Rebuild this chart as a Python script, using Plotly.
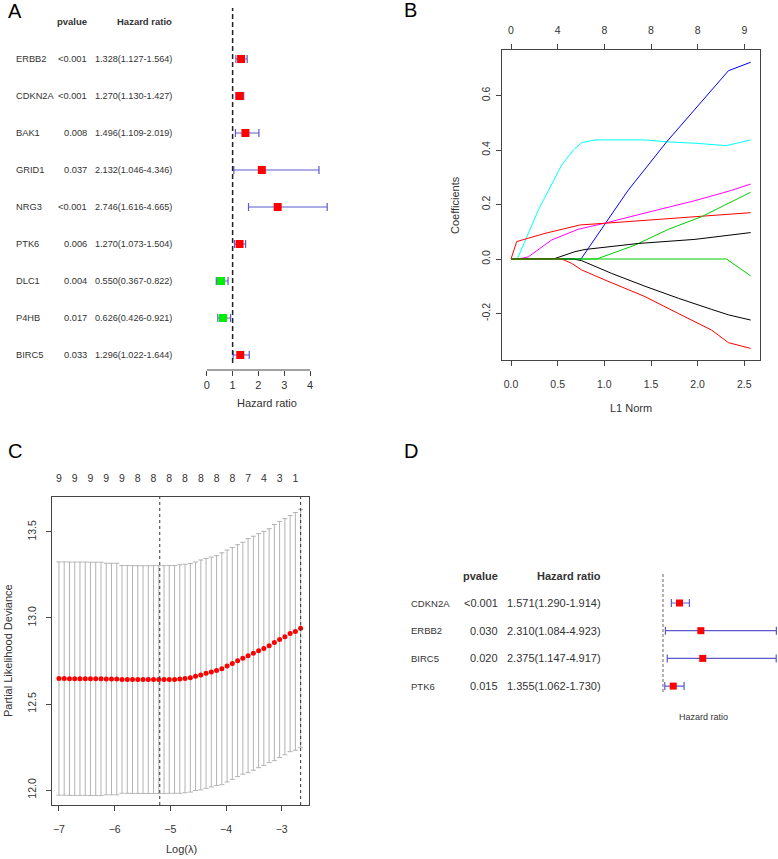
import plotly.graph_objects as go

W, H = 778, 859
FONT = 'Liberation Sans, Arial, sans-serif'
TXT = '#333333'
AX = '#444444'
ERR = '#5a5acd'

# ---- panel A: univariate cox
a_genes = ['ERBB2', 'CDKN2A', 'BAK1', 'GRID1', 'NRG3', 'PTK6', 'DLC1', 'P4HB', 'BIRC5']
a_pvalue = ['<0.001', '<0.001', '0.008', '0.037', '<0.001', '0.006', '0.004', '0.017', '0.033']
a_hr = [1.328, 1.270, 1.496, 2.132, 2.746, 1.270, 0.550, 0.626, 1.296]
a_low = [1.127, 1.130, 1.109, 1.046, 1.616, 1.073, 0.367, 0.426, 1.022]
a_high = [1.564, 1.427, 2.019, 4.346, 4.665, 1.504, 0.822, 0.921, 1.644]
a_ticks = [0, 1, 2, 3, 4]

# ---- panel B: lasso coefficient paths (L1 norm vs coefficient)
b_ticks = [0.0, 0.5, 1.0, 1.5, 2.0, 2.5]
b_top_nz = ['0', '4', '8', '8', '8', '9']
b_yticks = [-0.2, 0.0, 0.2, 0.4, 0.6]

cyan_x = [0, 0.068, 0.293, 0.40, 0.543, 0.668, 0.757, 0.90, 1.436, 1.668, 1.97, 2.31, 2.568]
cyan_y = [0, 0, 0.18, 0.253, 0.345, 0.40, 0.427, 0.437, 0.437, 0.43, 0.425, 0.416, 0.437]
blue_x = [0, 0.75, 1.0, 1.257, 1.668, 2.33, 2.568]
blue_y = [0, 0, 0.125, 0.253, 0.43, 0.691, 0.722]
magenta_x = [0, 0.08, 0.186, 0.436, 0.72, 1.0, 1.52, 1.97, 2.364, 2.568]
magenta_y = [0, 0, 0.008, 0.07, 0.109, 0.131, 0.176, 0.214, 0.252, 0.275]
redpos_x = [0, 0.061, 0.364, 0.74, 1.0, 1.614, 2.568]
redpos_y = [0, 0.064, 0.094, 0.125, 0.131, 0.146, 0.17]
greenpos_x = [0, 0.918, 1.329, 1.686, 2.04, 2.568]
greenpos_y = [0, 0, 0.051, 0.109, 0.155, 0.245]
blackpos_x = [0, 0.382, 0.471, 0.686, 0.793, 1.364, 1.97, 2.568]
blackpos_y = [0, 0, 0.002, 0.027, 0.035, 0.057, 0.072, 0.097]
blackneg_x = [0, 0.668, 0.757, 1.079, 1.436, 1.793, 2.15, 2.33, 2.568]
blackneg_y = [0, 0, -0.006, -0.053, -0.10, -0.144, -0.185, -0.205, -0.224]
redneg_x = [0, 0.543, 0.65, 0.757, 1.007, 1.436, 1.793, 2.15, 2.33, 2.568]
redneg_y = [0, 0, -0.016, -0.04, -0.077, -0.138, -0.20, -0.261, -0.307, -0.328]
greenneg_x = [0, 2.31, 2.568]
greenneg_y = [0, 0, -0.062]

# ---- panel C: cross-validation curve
c_loglam = [-7.000, -6.906, -6.811, -6.717, -6.623, -6.528, -6.434, -6.340, -6.245, -6.151,
            -6.057, -5.962, -5.868, -5.773, -5.679, -5.585, -5.490, -5.396, -5.302, -5.207,
            -5.113, -5.019, -4.924, -4.830, -4.736, -4.641, -4.547, -4.453, -4.358, -4.264,
            -4.170, -4.075, -3.981, -3.887, -3.792, -3.698, -3.604, -3.509, -3.415, -3.321,
            -3.226, -3.132, -3.038, -2.943, -2.849, -2.755, -2.660]
c_mean = [12.648, 12.648, 12.647, 12.647, 12.647, 12.647, 12.646, 12.646, 12.646, 12.645,
          12.645, 12.645, 12.643, 12.643, 12.642, 12.642, 12.642, 12.642, 12.642, 12.642,
          12.642, 12.643, 12.643, 12.645, 12.648, 12.652, 12.661, 12.669, 12.678, 12.686,
          12.694, 12.705, 12.721, 12.736, 12.752, 12.766, 12.781, 12.795, 12.810, 12.823,
          12.839, 12.857, 12.875, 12.891, 12.909, 12.922, 12.940]
c_sd = [0.678, 0.678, 0.678, 0.678, 0.678, 0.678, 0.678, 0.678, 0.678, 0.673,
        0.673, 0.673, 0.662, 0.662, 0.662, 0.662, 0.662, 0.662, 0.662, 0.662,
        0.662, 0.662, 0.662, 0.664, 0.664, 0.664, 0.664, 0.668, 0.668, 0.668,
        0.668, 0.674, 0.674, 0.674, 0.674, 0.674, 0.680, 0.680, 0.680, 0.680,
        0.680, 0.686, 0.686, 0.686, 0.686, 0.691, 0.691]
c_top_pos = [-7.000, -6.717, -6.434, -6.151, -5.868, -5.585, -5.302, -5.019,
             -4.736, -4.453, -4.170, -3.887, -3.604, -3.321, -3.038, -2.755]
c_top_nz = ['9', '9', '9', '9', '9', '8', '8', '8', '8', '8', '8', '8', '7', '4', '3', '1']
c_xticks = [-7, -6, -5, -4, -3]
c_yticks = [12.0, 12.5, 13.0, 13.5]
c_lambda_min = -5.19
c_lambda_1se = -2.66

# ---- panel D: multivariate cox
d_genes = ['CDKN2A', 'ERBB2', 'BIRC5', 'PTK6']
d_pvalue = ['<0.001', '0.030', '0.020', '0.015']
d_hr = [1.571, 2.310, 2.375, 1.355]
d_low = [1.290, 1.084, 1.147, 1.062]
d_high = [1.914, 4.923, 4.917, 1.730]


def fx(p):
    return p / W


def fy(p):
    return 1 - p / H


def note(text, x, y, size=11, xanchor='center', yref='paper', color=TXT, angle=0):
    return dict(text=text, x=fx(x), y=(fy(y) if yref == 'paper' else y), xref='paper', yref=yref,
                xanchor=xanchor, yanchor='middle', showarrow=False, textangle=angle,
                font=dict(family=FONT, size=size, color=color))


def hr_text(h, lo, hi):
    return f"{h:.3f}({lo:.3f}-{hi:.3f})"


fig = go.Figure()

# forest A
fig.add_trace(go.Scatter(
    x=a_hr, y=list(range(len(a_genes))), mode='markers', xaxis='x', yaxis='y',
    marker=dict(symbol='square', size=8, color=['#ff0000' if h > 1 else '#00ee00' for h in a_hr]),
    error_x=dict(type='data', symmetric=False,
                 array=[hi - h for h, hi in zip(a_hr, a_high)],
                 arrayminus=[h - lo for h, lo in zip(a_hr, a_low)],
                 color=ERR, thickness=1.2, width=4)))

# paths B
paths = [
    (cyan_x, cyan_y, '#00ffff'), (blue_x, blue_y, '#0000ff'), (magenta_x, magenta_y, '#ff00ff'),
    (redpos_x, redpos_y, '#ff0000'), (greenpos_x, greenpos_y, '#00cd00'),
    (blackpos_x, blackpos_y, '#000000'), (blackneg_x, blackneg_y, '#000000'),
    (redneg_x, redneg_y, '#ff0000'), (greenneg_x, greenneg_y, '#00cd00'),
]
for px_, py_, col in paths:
    fig.add_trace(go.Scatter(x=px_, y=py_, mode='lines', line=dict(color=col, width=1),
                             xaxis='x2', yaxis='y2'))
fig.add_trace(go.Scatter(x=[None], y=[None], xaxis='x5', yaxis='y2', hoverinfo='skip'))

# cv curve C
fig.add_trace(go.Scatter(
    x=c_loglam, y=c_mean, mode='markers', xaxis='x3', yaxis='y3',
    marker=dict(color='#ff0000', size=5),
    error_y=dict(type='data', array=c_sd, color='#b3b3b3', thickness=1, width=2.5)))
fig.add_trace(go.Scatter(x=[None], y=[None], xaxis='x6', yaxis='y3', hoverinfo='skip'))

# forest D
fig.add_trace(go.Scatter(
    x=d_hr, y=list(range(len(d_genes))), mode='markers', xaxis='x4', yaxis='y4',
    marker=dict(symbol='square', size=7, color=['#ff0000' if h > 1 else '#00ee00' for h in d_hr]),
    error_x=dict(type='data', symmetric=False,
                 array=[hi - h for h, hi in zip(d_hr, d_high)],
                 arrayminus=[h - lo for h, lo in zip(d_hr, d_low)],
                 color=ERR, thickness=1.2, width=4)))

tickfont = dict(family=FONT, size=10.5, color=TXT)
box = dict(showline=True, mirror=True, linecolor=AX, linewidth=1, showgrid=False, zeroline=False,
           ticks='outside', ticklen=5, tickcolor=AX, tickfont=tickfont)

annotations = []
# table A
annotations.append(note('<b>pvalue</b>', 89, 22, size=9.5, xanchor='right'))
annotations.append(note('<b>Hazard ratio</b>', 174, 22, size=9.5, xanchor='right'))
for i, g in enumerate(a_genes):
    annotations.append(note(g, 14, i, size=9.3, xanchor='left', yref='y'))
    annotations.append(note(a_pvalue[i], 89, i, size=9.3, xanchor='right', yref='y'))
    annotations.append(note(hr_text(a_hr[i], a_low[i], a_high[i]), 174, i, size=9.1,
                            xanchor='right', yref='y'))
annotations.append(note('Hazard ratio', 267, 403, size=11))

# table D
annotations.append(note('<b>pvalue</b>', 500, 576, size=11, xanchor='right'))
annotations.append(note('<b>Hazard ratio</b>', 603, 576, size=11, xanchor='right'))
for i, g in enumerate(d_genes):
    annotations.append(note(g, 409, i, size=9.5, xanchor='left', yref='y4'))
    annotations.append(note(d_pvalue[i], 500, i, size=11, xanchor='right', yref='y4'))
    annotations.append(note(hr_text(d_hr[i], d_low[i], d_high[i]), 603, i, size=11,
                            xanchor='right', yref='y4'))
annotations.append(note('Hazard ratio', 703, 717, size=9))

# axis titles
annotations.append(note('Coefficients', 455, 205, angle=-90))
annotations.append(note('L1 Norm', 631, 408))
annotations.append(note('Partial Likelihood Deviance', 8, 651, angle=-90))
annotations.append(note('Log(λ)', 181, 849))

# panel letters
for lab, x, y in [('A', 15, 11), ('B', 411, 10), ('C', 15, 451), ('D', 411, 451)]:
    annotations.append(note(lab, x, y, size=20, color='#000000'))

shapes = [
    dict(type='line', xref='x', yref='paper', x0=a_ticks[0], x1=a_ticks[-1], y0=fy(370), y1=fy(370),
         line=dict(color=AX, width=1)),
    dict(type='line', xref='x', yref='y domain', x0=1, x1=1, y0=0, y1=1,
         line=dict(color='#222222', width=1.5, dash='5px,3px')),
    dict(type='line', xref='x3', yref='y3 domain', x0=c_lambda_min, x1=c_lambda_min, y0=0, y1=1,
         line=dict(color='#333333', width=1, dash='dot')),
    dict(type='line', xref='x3', yref='y3 domain', x0=c_lambda_1se, x1=c_lambda_1se, y0=0, y1=1,
         line=dict(color='#333333', width=1, dash='dot')),
    dict(type='line', xref='x4', yref='y4 domain', x0=1, x1=1, y0=0, y1=1,
         line=dict(color='#666666', width=1, dash='3px,2px')),
]

fig.update_layout(
    width=W, height=H, margin=dict(l=0, r=0, t=0, b=0),
    paper_bgcolor='white', plot_bgcolor='white', showlegend=False,
    font=dict(family=FONT, color=TXT),
    # A
    xaxis=dict(domain=[fx(202), fx(332)], range=[-0.187, 4.852], anchor='free', position=fy(370),
               tickvals=a_ticks, ticks='outside', ticklen=5, tickcolor=AX, showline=False,
               showgrid=False, zeroline=False, tickfont=dict(family=FONT, size=11, color=TXT)),
    yaxis=dict(domain=[fy(363), fy(8)], range=[8.216, -1.378], visible=False, anchor='x'),
    # B
    xaxis2=dict(domain=[fx(502), fx(760)], range=[-0.0965, 2.668], anchor='y2',
                tickvals=b_ticks, ticktext=[f"{v:.1f}" for v in b_ticks], ticklabelstandoff=9, **box),
    yaxis2=dict(domain=[fy(360), fy(50)], range=[-0.3706, 0.767], anchor='x2',
                tickvals=b_yticks, ticktext=[f"{v:.1f}" for v in b_yticks], tickangle=-90,
                ticklabelstandoff=2, **box),
    xaxis5=dict(overlaying='x2', side='top', anchor='y2', range=[-0.0965, 2.668],
                tickvals=b_ticks, ticktext=b_top_nz, ticks='outside', ticklen=5, tickcolor=AX,
                showline=False, showgrid=False, zeroline=False, tickfont=tickfont, ticklabelstandoff=6),
    # C
    xaxis3=dict(domain=[fx(52), fx(309)], range=[-7.125, -2.51], anchor='y3',
                tickvals=c_xticks, ticklabelstandoff=9, **box),
    yaxis3=dict(domain=[fy(805), fy(497)], range=[11.913, 13.703], anchor='x3',
                tickvals=c_yticks, ticktext=[f"{v:.1f}" for v in c_yticks], tickangle=-90,
                ticklabelstandoff=6, **box),
    xaxis6=dict(overlaying='x3', side='top', anchor='y3', range=[-7.125, -2.51],
                tickvals=c_top_pos, ticktext=c_top_nz, ticks='', showline=False, showgrid=False,
                zeroline=False, tickfont=tickfont, ticklabelstandoff=12),
    # D
    xaxis4=dict(domain=[fx(628), 1.0], range=[-0.211, 4.979], anchor='y4', visible=False),
    yaxis4=dict(domain=[fy(692), fy(573)], range=[3.213, -1.083], anchor='x4', visible=False),
    annotations=annotations, shapes=shapes,
)

# drop the browser's default body margin so the figure sits at the window's corner
fig.write_html("out.html", config={'displayModeBar': False},
               post_script="document.body.style.margin='0';document.body.style.overflow='hidden';")
